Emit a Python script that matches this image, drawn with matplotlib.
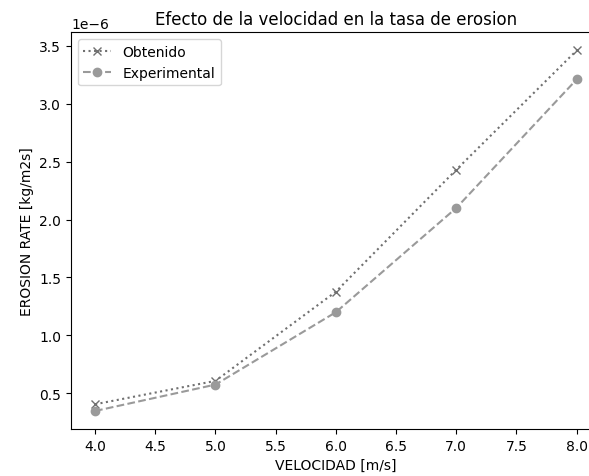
import matplotlib
matplotlib.use("Agg")
import matplotlib.pyplot as plt

velocidad = [4.0, 5.0, 6.0, 7.0, 8.0]
obtenido = [0.405e-6, 0.607e-6, 1.377e-6, 2.43e-6, 3.46e-6]
experimental = [0.347e-6, 0.575e-6, 1.20e-6, 2.10e-6, 3.21e-6]

fig = plt.figure(figsize=(5.89, 4.77), dpi=100)
ax = fig.add_axes([0.1205, 0.0985, 0.8995, 0.8315])

ax.plot(velocidad, obtenido, ':', marker='x', color='#707070', label='Obtenido')
ax.plot(velocidad, experimental, '--', marker='o', color='#9a9a9a', label='Experimental')

ax.set_title('Efecto de la velocidad en la tasa de erosion')
ax.set_xlabel('VELOCIDAD [m/s]')
ax.set_ylabel('EROSION RATE [kg/m2s]')
ax.legend(loc='upper left')

fig.savefig('out.png', dpi=100)
